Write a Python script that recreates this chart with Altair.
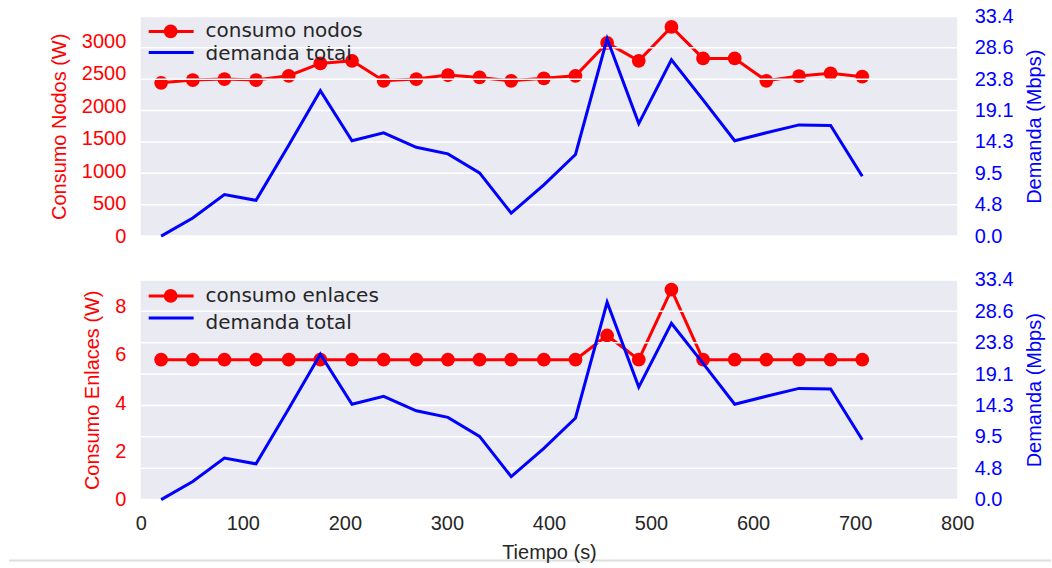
import altair as alt
import pandas as pd

# Sampling instants (s)
tiempo = [20, 51, 82, 113, 145, 176, 207, 238, 270, 301, 332, 363,
          395, 426, 457, 488, 520, 551, 582, 613, 645, 676, 707]

# Node power consumption (W)
consumo_nodos = [2362, 2404, 2419, 2404, 2470, 2660, 2700, 2393, 2419, 2481, 2445, 2393,
                 2430, 2470, 2977, 2700, 3222, 2737, 2737, 2393, 2465, 2507, 2455]

# Link power consumption (W)
consumo_enlaces = [5.8, 5.8, 5.8, 5.8, 5.8, 5.8, 5.8, 5.8, 5.8, 5.8, 5.8, 5.8,
                   5.8, 5.8, 6.8, 5.8, 8.7, 5.8, 5.8, 5.8, 5.8, 5.8, 5.8]

# Total traffic demand (Mbps)
demanda_total = [0.0, 2.76, 6.3, 5.43, 13.8, 22.1, 14.5, 15.7, 13.5, 12.5, 9.6, 3.5,
                 7.8, 12.4, 30.0, 17.1, 26.8, 20.7, 14.5, 15.7, 16.9, 16.8, 9.1]

# Axis ranges and tick positions
tiempo_ticks = [0, 100, 200, 300, 400, 500, 600, 700, 800]
nodos_domain = [0, 3383]
nodos_ticks = [0, 500, 1000, 1500, 2000, 2500, 3000]
enlaces_domain = [0, 9.1]
enlaces_ticks = [0, 2, 4, 6, 8]
demanda_domain = [0, 33.38]
demanda_ticks = [0.0, 4.7686, 9.5371, 14.3057, 19.0743, 23.8429, 28.6114, 33.38]

df = pd.DataFrame({
    "tiempo": tiempo,
    "nodos": consumo_nodos,
    "enlaces": consumo_enlaces,
    "demanda": demanda_total,
})
grid_df = pd.DataFrame({"demanda": demanda_ticks})
one = pd.DataFrame({"k": [0]})

W, H = 818, 220
RED, BLUE, INK = "#ff0000", "#0000ff", "#262626"
LABEL_FONT = "Liberation Sans"
LEGEND_FONT = "DejaVu Sans"


def x_enc(show_axis):
    axis = None
    if show_axis:
        axis = alt.Axis(values=tiempo_ticks, title="Tiempo (s)", grid=False, ticks=False,
                        domain=False, labelPadding=14, titlePadding=9, labelFlush=False,
                        labelColor=INK, titleColor=INK, format="d", zindex=1)
    return alt.X("tiempo:Q", scale=alt.Scale(domain=[0, 800], nice=False), axis=axis)


def legend(label, ry, by, bt):
    red_rule = alt.Chart(one).mark_rule(color=RED, strokeWidth=3).encode(
        x=alt.value(8), x2=alt.value(53), y=alt.value(ry))
    red_dot = alt.Chart(one).mark_point(filled=True, color=RED, opacity=1, size=190).encode(
        x=alt.value(30), y=alt.value(ry))
    red_txt = alt.Chart(one).mark_text(align="left", baseline="middle", font=LEGEND_FONT,
                                       fontSize=20, color=INK).encode(
        x=alt.value(65), y=alt.value(ry), text=alt.value(label))
    blue_rule = alt.Chart(one).mark_rule(color=BLUE, strokeWidth=3).encode(
        x=alt.value(8), x2=alt.value(53), y=alt.value(by))
    blue_txt = alt.Chart(one).mark_text(align="left", baseline="middle", font=LEGEND_FONT,
                                        fontSize=20, color=INK).encode(
        x=alt.value(65), y=alt.value(bt), text=alt.value("demanda total"))
    return [red_rule, red_dot, red_txt, blue_rule, blue_txt]


def panel(field, domain, ticks, title, label, ry, by, bt, show_x, extra=None):
    x = x_enc(show_x)
    y_left = alt.Y(f"{field}:Q",
                   scale=alt.Scale(domain=domain, nice=False, zero=False),
                   axis=alt.Axis(orient="left", values=ticks, title=title, grid=False,
                                 ticks=False, domain=False, labelColor=RED, titleColor=RED,
                                 labelPadding=15, titlePadding=12, format="d"))
    base = alt.Chart(df).encode(x=x, y=y_left)
    red = alt.layer(
        base.mark_line(color=RED, strokeWidth=3),
        base.mark_point(filled=True, color=RED, opacity=1, size=190),
    )

    # Right-hand demand scale, shared by its white grid lines and the blue line
    y_right = alt.Y("demanda:Q",
                    scale=alt.Scale(domain=demanda_domain, nice=False, zero=False),
                    axis=alt.Axis(orient="right", values=demanda_ticks, format=".1f",
                                  title="Demanda (Mbps)", titleAngle=270, titleBaseline="top",
                                  grid=False, ticks=False, domain=False, labelColor=BLUE,
                                  titleColor=BLUE, labelPadding=17, titlePadding=12))
    grid = alt.Chart(grid_df).mark_rule(color="white", strokeWidth=1.5).encode(y=y_right)
    blue = alt.Chart(df).mark_line(color=BLUE, strokeWidth=3).encode(x=x, y=y_right)
    right = [grid, blue] + ([extra] if extra is not None else [])

    layers = [red] + legend(label, ry, by, bt) + [alt.layer(*right)]
    return alt.layer(*layers).resolve_scale(y="independent").properties(width=W, height=H)


# Thin separator under the figure
separator = alt.Chart(one).mark_rule(color="#dddddd", strokeWidth=2).encode(
    x=alt.value(-132), x2=alt.value(912), y=alt.value(281))

top = panel("nodos", nodos_domain, nodos_ticks, "Consumo Nodos (W)",
            "consumo nodos", 15, 36, 38, show_x=False)
bottom = panel("enlaces", enlaces_domain, enlaces_ticks, "Consumo Enlaces (W)",
               "consumo enlaces", 16, 38, 43, show_x=True, extra=separator)

chart = alt.vconcat(top, bottom, spacing=44, bounds="flush").properties(
    padding={"left": 8, "top": 6, "right": 0, "bottom": 0},
    background="white",
).configure_view(
    fill="#eaeaf2", stroke=None,
).configure_axis(
    labelFont=LABEL_FONT, labelFontSize=20, titleFont=LABEL_FONT, titleFontSize=20,
    titleFontWeight="normal",
)

chart.save("out.html", embed_options={"renderer": "svg", "actions": False})
